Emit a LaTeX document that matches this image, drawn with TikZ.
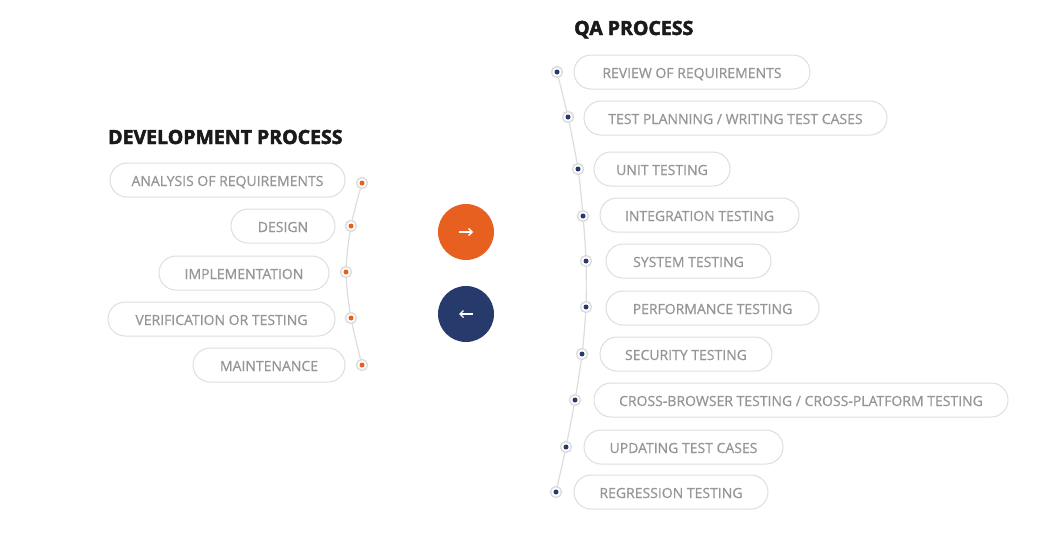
\documentclass[tikz,border=0pt]{standalone}
\usepackage{fontspec}
\setmainfont{Open Sans}
\newfontfamily\headfont[BoldFeatures={FakeBold=2.5}]{Open Sans}
\newfontfamily\pillfont[FakeBold=0.6]{Open Sans}
\usetikzlibrary{arrows.meta,backgrounds,calc}
\definecolor{pilltext}{HTML}{969696}
\definecolor{pillline}{HTML}{DEDEDE}
\definecolor{railgray}{HTML}{DDDDDD}
\definecolor{devorange}{HTML}{E8601F}
\definecolor{qanavy}{HTML}{263A6B}
\definecolor{headink}{HTML}{1A1A1A}
\tikzset{
  pill/.style={draw=pillline, line width=1pt, rounded corners=17pt, minimum height=34pt,
    inner sep=0pt, text=pilltext, text height=12pt, text depth=0pt,
    font=\pillfont\fontsize{14pt}{16pt}\selectfont},
  heading/.style={text=headink, font=\headfont\fontsize{19.5pt}{22pt}\selectfont\bfseries, inner sep=0pt},
  dot/.style={circle, draw=railgray, line width=1.5pt, fill=white, minimum size=11pt, inner sep=0pt,
    path picture={\fill[#1] (path picture bounding box.center) circle (2.5pt);}},
  rail/.style={draw=railgray, line width=1.2pt},
  roundbtn/.style={circle, minimum size=56pt, inner sep=0pt, fill=#1},
  btnarrow/.style={white, line width=1.4pt, -{Straight Barb[length=3.5pt,width=7pt]}}
}
\begin{document}
\begin{tikzpicture}[x=1pt,y=-1pt]
\useasboundingbox (0,0) rectangle (1046,536);

% headings
\node[heading, anchor=base west] (devhead) at (108,144) {DEVELOPMENT PROCESS};
\node[heading, anchor=base west] (qahead) at (574,35) {QA PROCESS};

% development steps
\node[pill, minimum width=235pt] (dv1) at (227.5,180) {ANALYSIS OF REQUIREMENTS};
\node[pill, minimum width=104pt] (dv2) at (283,226) {DESIGN};
\node[pill, minimum width=170pt] (dv3) at (244,273) {IMPLEMENTATION};
\node[pill, minimum width=227pt] (dv4) at (221.5,319) {VERIFICATION OR TESTING};
\node[pill, minimum width=152pt] (dv5) at (269,365) {MAINTENANCE};

\node[dot=devorange] (dd1) at (362,183) {};
\node[dot=devorange] (dd2) at (351,226) {};
\node[dot=devorange] (dd3) at (346,272) {};
\node[dot=devorange] (dd4) at (351,318) {};
\node[dot=devorange] (dd5) at (362,365) {};

% QA steps
\node[pill, minimum width=236pt] (qa1) at (692,72) {REVIEW OF REQUIREMENTS};
\node[pill, minimum width=303pt] (qa2) at (735.5,118) {TEST PLANNING / WRITING TEST CASES};
\node[pill, minimum width=136pt] (qa3) at (662,169) {UNIT TESTING};
\node[pill, minimum width=199pt] (qa4) at (699.5,215) {INTEGRATION TESTING};
\node[pill, minimum width=165pt] (qa5) at (688.5,261) {SYSTEM TESTING};
\node[pill, minimum width=213pt] (qa6) at (712.5,308) {PERFORMANCE TESTING};
\node[pill, minimum width=172pt] (qa7) at (686,354) {SECURITY TESTING};
\node[pill, minimum width=414pt] (qa8) at (801,400) {CROSS-BROWSER TESTING / CROSS-PLATFORM TESTING};
\node[pill, minimum width=199pt] (qa9) at (683.5,447) {UPDATING TEST CASES};
\node[pill, minimum width=194pt] (qa10) at (671,492) {REGRESSION TESTING};

\node[dot=qanavy] (qd1) at (557,72) {};
\node[dot=qanavy] (qd2) at (568,117) {};
\node[dot=qanavy] (qd3) at (578,169) {};
\node[dot=qanavy] (qd4) at (583,216) {};
\node[dot=qanavy] (qd5) at (586,261) {};
\node[dot=qanavy] (qd6) at (586,307) {};
\node[dot=qanavy] (qd7) at (582,354) {};
\node[dot=qanavy] (qd8) at (575,400) {};
\node[dot=qanavy] (qd9) at (566,447) {};
\node[dot=qanavy] (qd10) at (556,492) {};

% page fill and the rails through the dots, kept behind everything else
\begin{pgfonlayer}{background}
\fill[white] (0,0) rectangle (1046,536);
\draw[rail] plot[smooth, tension=0.5] coordinates {(dd1.center) (dd2.center) (dd3.center) (dd4.center) (dd5.center)};
\draw[rail] plot[smooth, tension=0.5] coordinates {(qd1.center) (qd2.center) (qd3.center) (qd4.center) (qd5.center)
  (qd6.center) (qd7.center) (qd8.center) (qd9.center) (qd10.center)};
\end{pgfonlayer}

% direction buttons
\node[roundbtn=devorange] (fwd) at (466,232) {};
\node[roundbtn=qanavy] (back) at (466,314) {};
\draw[btnarrow] ($(fwd.center)+(-7,0)$) -- ($(fwd.center)+(7,0)$);
\draw[btnarrow] ($(back.center)+(7,0)$) -- ($(back.center)+(-7,0)$);
\end{tikzpicture}
\end{document}
